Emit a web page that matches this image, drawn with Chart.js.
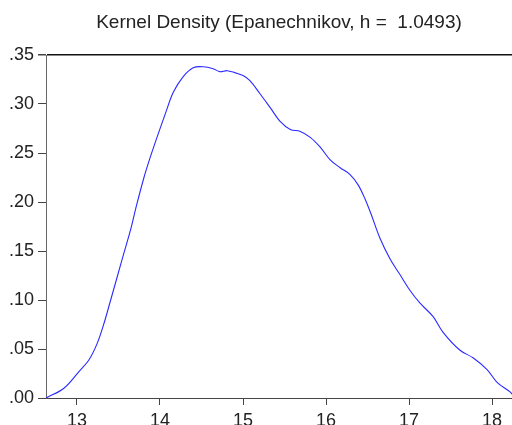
<!DOCTYPE html>
<html>
<head>
<meta charset="utf-8">
<script src="https://cdn.jsdelivr.net/npm/chart.js@4"></script>
<style>
html,body{margin:0;padding:0;background:#fff;}
#wrap{width:512px;height:425px;overflow:hidden;}
</style>
</head>
<body>
<div id="wrap"><canvas id="c" width="512" height="425"></canvas></div>
<script>
const titleText = "Kernel Density (Epanechnikov, h =  1.0493)";
const xValues = [12.627, 12.843, 13.024, 13.145, 13.245, 13.325, 13.406, 13.486, 13.566, 13.647, 13.707, 13.807, 13.888, 13.968, 14.068, 14.16, 14.28, 14.40, 14.52, 14.64, 14.72, 14.81, 14.90, 15.00, 15.08, 15.20, 15.33, 15.45, 15.57, 15.69, 15.81, 15.93, 16.05, 16.17, 16.29, 16.39, 16.47, 16.55, 16.65, 16.77, 16.89, 17.01, 17.13, 17.29, 17.41, 17.61, 17.77, 17.94, 18.06, 18.22, 18.24];
const densityValues = [0.000, 0.010, 0.027, 0.039, 0.056, 0.076, 0.100, 0.124, 0.148, 0.172, 0.193, 0.225, 0.247, 0.267, 0.291, 0.312, 0.328, 0.337, 0.338, 0.336, 0.333, 0.334, 0.332, 0.329, 0.324, 0.311, 0.296, 0.282, 0.274, 0.272, 0.266, 0.256, 0.243, 0.235, 0.228, 0.217, 0.203, 0.186, 0.163, 0.142, 0.126, 0.110, 0.097, 0.083, 0.067, 0.049, 0.041, 0.029, 0.016, 0.006, 0.004];
const xTickValues = [13, 14, 15, 16, 17, 18];
const yMin = 0, yMax = 0.35, yStep = 0.05;
const xMin = 12.627, xMax = 18.24;

const points = xValues.map((x, i) => ({x: x, y: densityValues[i]}));

new Chart(document.getElementById('c'), {
  type: 'scatter',
  data: {
    datasets: [{
      data: points,
      showLine: true,
      borderColor: '#2a2aff',
      borderWidth: 1.1,
      pointRadius: 0,
      fill: false,
      tension: 0.35
    }]
  },
  options: {
    responsive: false,
    animation: false,
    devicePixelRatio: 1,
    layout: {padding: {top: 0, right: 0, left: 0, bottom: 0}},
    plugins: {
      legend: {display: false},
      tooltip: {enabled: false},
      title: {
        display: true,
        fullSize: false,
        text: titleText,
        color: '#222',
        font: {family: 'Liberation Sans', size: 19, weight: 'normal', lineHeight: 1.2},
        padding: {top: 11, bottom: 55 - 11 - 22.8},
        align: 'center'
      }
    },
    scales: {
      x: {
        type: 'linear',
        min: xMin, max: xMax,
        afterBuildTicks: s => { s.ticks = xTickValues.map(v => ({value: v})); },
        afterFit: s => { s.height = 27; },
        border: {display: true, color: '#444', width: 1},
        grid: {display: true, drawOnChartArea: false, drawTicks: true, tickLength: 7, tickColor: '#444'},
        ticks: {color: '#222', font: {family: 'Liberation Sans', size: 18}, padding: 5, maxRotation: 0, autoSkip: false}
      },
      y: {
        type: 'linear',
        min: yMin, max: yMax,
        afterFit: s => { s.width = 46; },
        border: {display: true, color: '#666', width: 1},
        grid: {
          display: true, drawOnChartArea: true, drawTicks: true, tickLength: 8,
          tickColor: '#444',
          color: ctx => (ctx.tick && Math.abs(ctx.tick.value - yMax) < 1e-9) ? '#111' : 'rgba(0,0,0,0)',
          lineWidth: ctx => (ctx.tick && Math.abs(ctx.tick.value - yMax) < 1e-9) ? 1.5 : 1
        },
        ticks: {
          stepSize: yStep,
          color: '#222',
          font: {family: 'Liberation Sans', size: 18},
          padding: 4,
          callback: v => v.toFixed(2).replace(/^0/, '')
        }
      }
    }
  }
});
</script>
</body>
</html>
